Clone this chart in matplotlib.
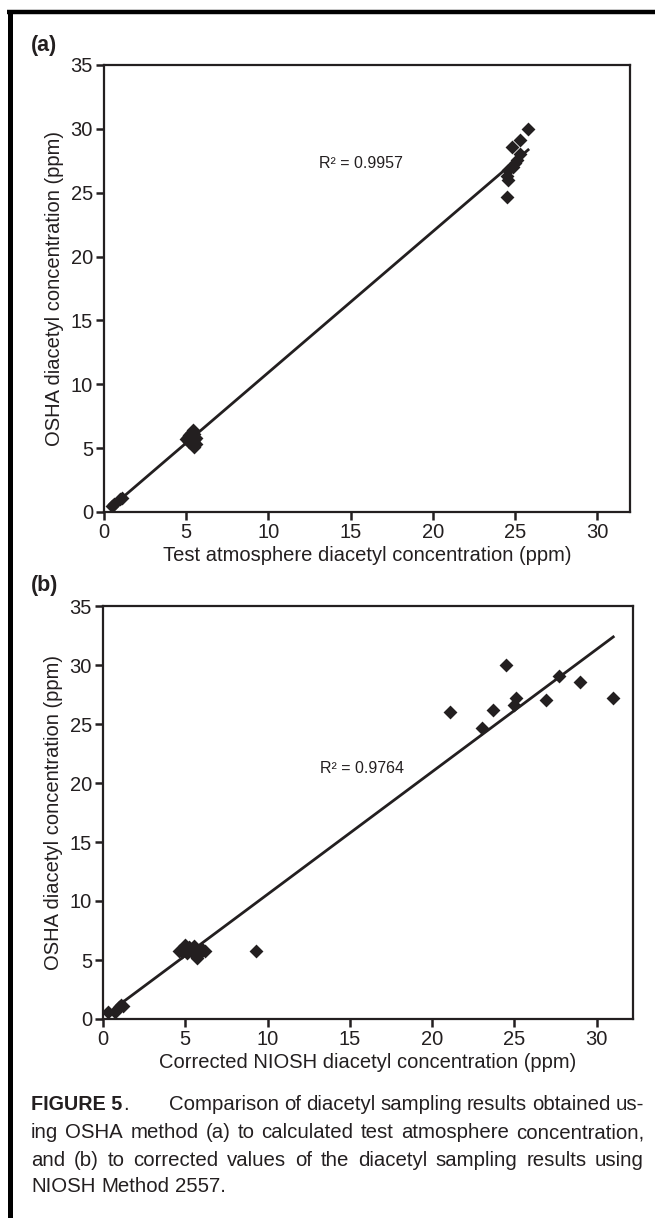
import matplotlib
matplotlib.use("Agg")
import matplotlib.pyplot as plt
import numpy as np
from matplotlib.lines import Line2D

plt.rcParams['font.family'] = ['Liberation Sans', 'DejaVu Sans']

# Panel (a): test atmosphere vs OSHA
a_x = [0.5, 0.6, 1.0, 1.1,
       5.0, 5.1, 5.2, 5.3, 5.4, 5.5, 5.5, 5.6, 5.5, 5.2, 5.3, 5.4, 5.6, 5.1,
       24.5, 24.6, 24.5, 24.6, 24.9, 25.0, 25.1, 25.3, 24.8, 25.3, 25.8]
a_y = [0.5, 0.6, 1.0, 1.1,
       5.7, 5.9, 6.0, 6.2, 6.4, 6.1, 5.6, 5.3, 5.1, 5.5, 5.8, 5.9, 5.8, 5.6,
       24.7, 26.0, 26.3, 26.8, 27.0, 27.3, 27.6, 28.0, 28.6, 29.1, 30.0]
a_r2 = "R² = 0.9957"

# Panel (b): corrected NIOSH vs OSHA
b_x = [0.3, 0.7, 1.0, 1.1, 1.2,
       4.6, 4.8, 5.0, 5.0, 5.1, 5.2, 5.3, 5.4, 5.5, 5.6, 5.7, 5.9, 6.0, 6.2,
       9.3,
       21.1, 23.0, 23.7, 24.5, 25.0, 25.1, 26.9, 27.7, 29.0, 31.0]
b_y = [0.6, 0.6, 1.0, 1.2, 1.1,
       5.8, 5.7, 6.0, 6.3, 5.6, 6.1, 5.9, 5.7, 6.2, 6.0, 5.2, 5.6, 5.9, 5.8,
       5.8,
       26.0, 24.7, 26.2, 30.0, 26.6, 27.2, 27.0, 29.1, 28.6, 27.2]
b_r2 = "R² = 0.9764"

y_ticks = [0, 5, 10, 15, 20, 25, 30, 35]
x_ticks = [0, 5, 10, 15, 20, 25, 30]

caption_bold = "FIGURE 5"
caption_lines = [
    "Comparison of diacetyl sampling results obtained us-",
    "ing OSHA method (a) to calculated test atmosphere concentration,",
    "and (b) to corrected values of the diacetyl sampling results using",
    "NIOSH Method 2557.",
]

INK = '#231f20'
W, H = 655, 1218
fig = plt.figure(figsize=(W / 100, H / 100), dpi=100)


def rect(l, t, r, b):
    return [l / W, 1 - b / H, (r - l) / W, (b - t) / H]


def panel(ax, xs, ys, xmax, r2, r2pos, xlabel):
    ax.scatter(xs, ys, marker='D', s=50, color=INK, zorder=3, linewidths=0)
    k, c = np.polyfit(xs, ys, 1)
    lx = np.array([min(xs), max(xs)])
    ax.plot(lx, k * lx + c, color=INK, lw=2.0, zorder=2)
    ax.set_xlim(0, xmax)
    ax.set_ylim(0, 35)
    ax.set_xticks(x_ticks)
    ax.set_yticks(y_ticks)
    for s in ax.spines.values():
        s.set_linewidth(1.6)
        s.set_color(INK)
    ax.tick_params(direction='out', length=6, width=1.8, labelsize=14.5,
                   colors=INK, pad=2)
    ax.set_xlabel(xlabel, fontsize=14.5, color=INK, labelpad=3)
    ax.set_ylabel('OSHA diacetyl concentration (ppm)', fontsize=14.5,
                  color=INK, labelpad=5)
    ax.text(r2pos[0], r2pos[1], r2, fontsize=11.5, color=INK,
            ha='left', va='center')


ax1 = fig.add_axes(rect(104, 65, 630, 512))
panel(ax1, a_x, a_y, 32.0, a_r2, (13.1, 27.3),
      'Test atmosphere diacetyl concentration (ppm)')

ax2 = fig.add_axes(rect(103, 606, 633, 1019))
panel(ax2, b_x, b_y, 32.2, b_r2, (13.2, 21.2),
      'Corrected NIOSH diacetyl concentration (ppm)')

fig.text(31 / W, 1 - 45 / H, '(a)', fontsize=15.5, fontweight='bold',
         ha='left', va='center', color=INK)
fig.text(31 / W, 1 - 586 / H, '(b)', fontsize=15.5, fontweight='bold',
         ha='left', va='center', color=INK)

# outer border (top and left)
fig.add_artist(Line2D([7 / W, 1], [1 - 12 / H, 1 - 12 / H], lw=3.2, color='black',
                      transform=fig.transFigure, solid_capstyle='butt'))
fig.add_artist(Line2D([9.5 / W, 9.5 / W], [0, 1 - 10 / H], lw=3.6, color='black',
                      transform=fig.transFigure, solid_capstyle='butt'))

# caption, justified between x0 and x1
renderer = fig.canvas.get_renderer()
x0, x1 = 31, 644
ys = [1105, 1133, 1160, 1186]
FS = 14.7


def width_px(t):
    return t.get_window_extent(renderer).width


def measure(s, **kw):
    t = fig.text(0, 0, s, fontsize=FS, **kw)
    w = width_px(t)
    t.remove()
    return w


SPACE = measure('a a') - measure('aa')


def justify(words, y, start, end, last=False):
    texts = [fig.text(0, 1 - y / H, w, fontsize=FS, ha='left', va='center',
                      color=INK) for w in words]
    widths = [width_px(t) for t in texts]
    if last or len(words) == 1:
        gap = SPACE
    else:
        gap = max(SPACE * 0.8, (end - start - sum(widths)) / (len(words) - 1))
    x = start
    for t, w in zip(texts, widths):
        t.set_x(x / W)
        x += w + gap


bold = fig.text(x0 / W, 1 - ys[0] / H, caption_bold, fontsize=14.2,
                fontweight='bold', ha='left', va='center', color=INK)
bw = width_px(bold)
fig.text((x0 + bw + 1) / W, 1 - ys[0] / H, '.', fontsize=FS, ha='left',
         va='center', color=INK)
justify(caption_lines[0].split(), ys[0], 169, x1)
justify(caption_lines[1].split(), ys[1], x0, x1)
justify(caption_lines[2].split(), ys[2], x0, x1)
justify(caption_lines[3].split(), ys[3], x0, x1, last=True)

fig.savefig('out.png', dpi=100, facecolor='white')
